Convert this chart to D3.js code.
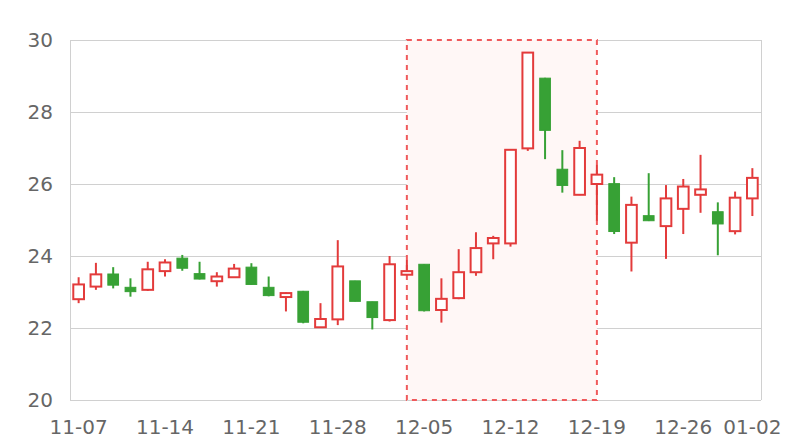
<!DOCTYPE html>
<html>
<head>
<meta charset="utf-8">
<script src="https://cdn.jsdelivr.net/npm/d3@7"></script>
<style>
  html, body { margin: 0; padding: 0; background: #fff; }
  svg { display: block; font-family: "DejaVu Sans", sans-serif; }
</style>
</head>
<body>
<svg id="chart" width="800" height="440"></svg>
<script>
const dates = ["11-07","11-08","11-09","11-10","11-11",
  "11-14","11-15","11-16","11-17","11-18",
  "11-21","11-22","11-23","11-24","11-25",
  "11-28","11-29","11-30","12-01","12-02",
  "12-05","12-06","12-07","12-08","12-09",
  "12-12","12-13","12-14","12-15","12-16",
  "12-19","12-20","12-21","12-22","12-23",
  "12-26","12-27","12-28","12-29","01-02"];
const openVals  = [22.80,23.15,23.50,23.13,23.06,23.58,23.94,23.51,23.30,23.41,
                   23.69,23.13,22.86,23.02,22.02,22.24,23.31,22.73,22.22,23.48,
                   23.77,22.50,22.83,23.55,24.35,24.35,26.99,28.94,26.41,25.70,
                   26.00,26.01,24.37,25.12,24.83,25.31,25.70,25.23,24.69,25.60];
const closeVals = [23.21,23.49,23.19,23.01,23.63,23.82,23.66,23.36,23.43,23.65,
                   23.21,22.90,22.97,22.16,22.25,23.71,22.74,22.29,23.77,23.58,
                   22.48,22.81,23.55,24.22,24.50,26.95,29.65,27.49,25.96,27.00,
                   26.26,24.68,25.42,24.98,25.60,25.93,25.85,24.89,25.62,26.17];
const highVals  = [23.41,23.81,23.69,23.38,23.84,23.91,24.03,23.84,23.55,23.78,
                   23.80,23.43,22.99,23.03,22.69,24.44,23.31,22.73,24.00,23.89,
                   23.77,23.38,24.19,24.66,24.56,26.96,29.66,28.95,26.94,27.20,
                   26.53,26.19,25.65,26.30,25.97,26.14,26.81,25.49,25.79,26.44];
const lowVals   = [22.69,23.06,23.10,22.87,23.03,23.43,23.59,23.35,23.15,23.40,
                   23.20,22.88,22.46,22.13,22.00,22.08,22.74,21.96,22.18,23.47,
                   22.46,22.15,22.80,23.45,23.91,24.26,26.92,26.69,25.76,25.69,
                   24.98,24.61,23.57,24.97,23.92,24.61,25.20,24.02,24.60,25.11];
const yTicks = [20,22,24,26,28,30];
const xTickLabels = ["11-07","11-14","11-21","11-28","12-05","12-12","12-19","12-26","01-02"];
const highlightRange = ["12-02","12-19"];

const svg = d3.select("#chart");
const pL = 70, pR = 761, pT = 40, pB = 400;
const upColor = "#e33b3b", downColor = "#37a135";

const x = d3.scaleBand().domain(dates).range([pL, pR]).padding(0);
const y = d3.scaleLinear().domain([20, 30]).range([pB, pT]);
const cx = d => x(d) + x.bandwidth() / 2;
const bodyW = x.bandwidth() * 0.62;

// grid
svg.append("g").selectAll("line").data(yTicks).join("line")
  .attr("x1", pL).attr("x2", pR)
  .attr("y1", d => y(d)).attr("y2", d => y(d))
  .attr("stroke", "#d0d0d0").attr("stroke-width", 1).attr("shape-rendering", "crispEdges");
svg.append("g").selectAll("line").data([pL, pR]).join("line")
  .attr("x1", d => d).attr("x2", d => d)
  .attr("y1", pT).attr("y2", pB)
  .attr("stroke", "#d0d0d0").attr("stroke-width", 1).attr("shape-rendering", "crispEdges");

// highlight area
const hx0 = cx(highlightRange[0]), hx1 = cx(highlightRange[1]);
svg.append("rect")
  .attr("x", hx0).attr("y", pT).attr("width", hx1 - hx0).attr("height", pB - pT)
  .attr("fill", "#fff7f6");
svg.append("rect")
  .attr("x", hx0).attr("y", pT).attr("width", hx1 - hx0).attr("height", pB - pT)
  .attr("fill", "none")
  .attr("stroke", "#f05a5c").attr("stroke-width", 2).attr("stroke-dasharray", "5,5");

// axes
const yAxis = svg.append("g").attr("transform", `translate(${pL},0)`)
  .call(d3.axisLeft(y).tickValues(yTicks).tickSize(0).tickPadding(17));
yAxis.select(".domain").remove();
yAxis.selectAll("text").attr("font-size", 20).attr("fill", "#666").attr("font-family", "DejaVu Sans");

const xAxis = svg.append("g").attr("transform", `translate(0,${pB})`)
  .call(d3.axisBottom(x).tickValues(xTickLabels).tickSize(0).tickPadding(20));
xAxis.select(".domain").remove();
xAxis.selectAll("text").attr("font-size", 20).attr("fill", "#666").attr("font-family", "DejaVu Sans");

// candles
const data = dates.map((d, i) => ({d, o: openVals[i], c: closeVals[i], h: highVals[i], l: lowVals[i]}));
const g = svg.append("g");
const candle = g.selectAll("g").data(data).join("g");
candle.append("line")
  .attr("x1", d => cx(d.d)).attr("x2", d => cx(d.d))
  .attr("y1", d => y(d.h)).attr("y2", d => y(d.l))
  .attr("stroke", d => d.c >= d.o ? upColor : downColor).attr("stroke-width", 2);
candle.append("rect")
  .attr("x", d => cx(d.d) - bodyW / 2)
  .attr("width", bodyW)
  .attr("y", d => y(Math.max(d.o, d.c)))
  .attr("height", d => Math.max(1, Math.abs(y(d.o) - y(d.c))))
  .attr("fill", d => d.c >= d.o ? "#fff" : downColor)
  .attr("stroke", d => d.c >= d.o ? upColor : downColor)
  .attr("stroke-width", d => d.c >= d.o ? 2 : 1);
</script>
</body>
</html>
